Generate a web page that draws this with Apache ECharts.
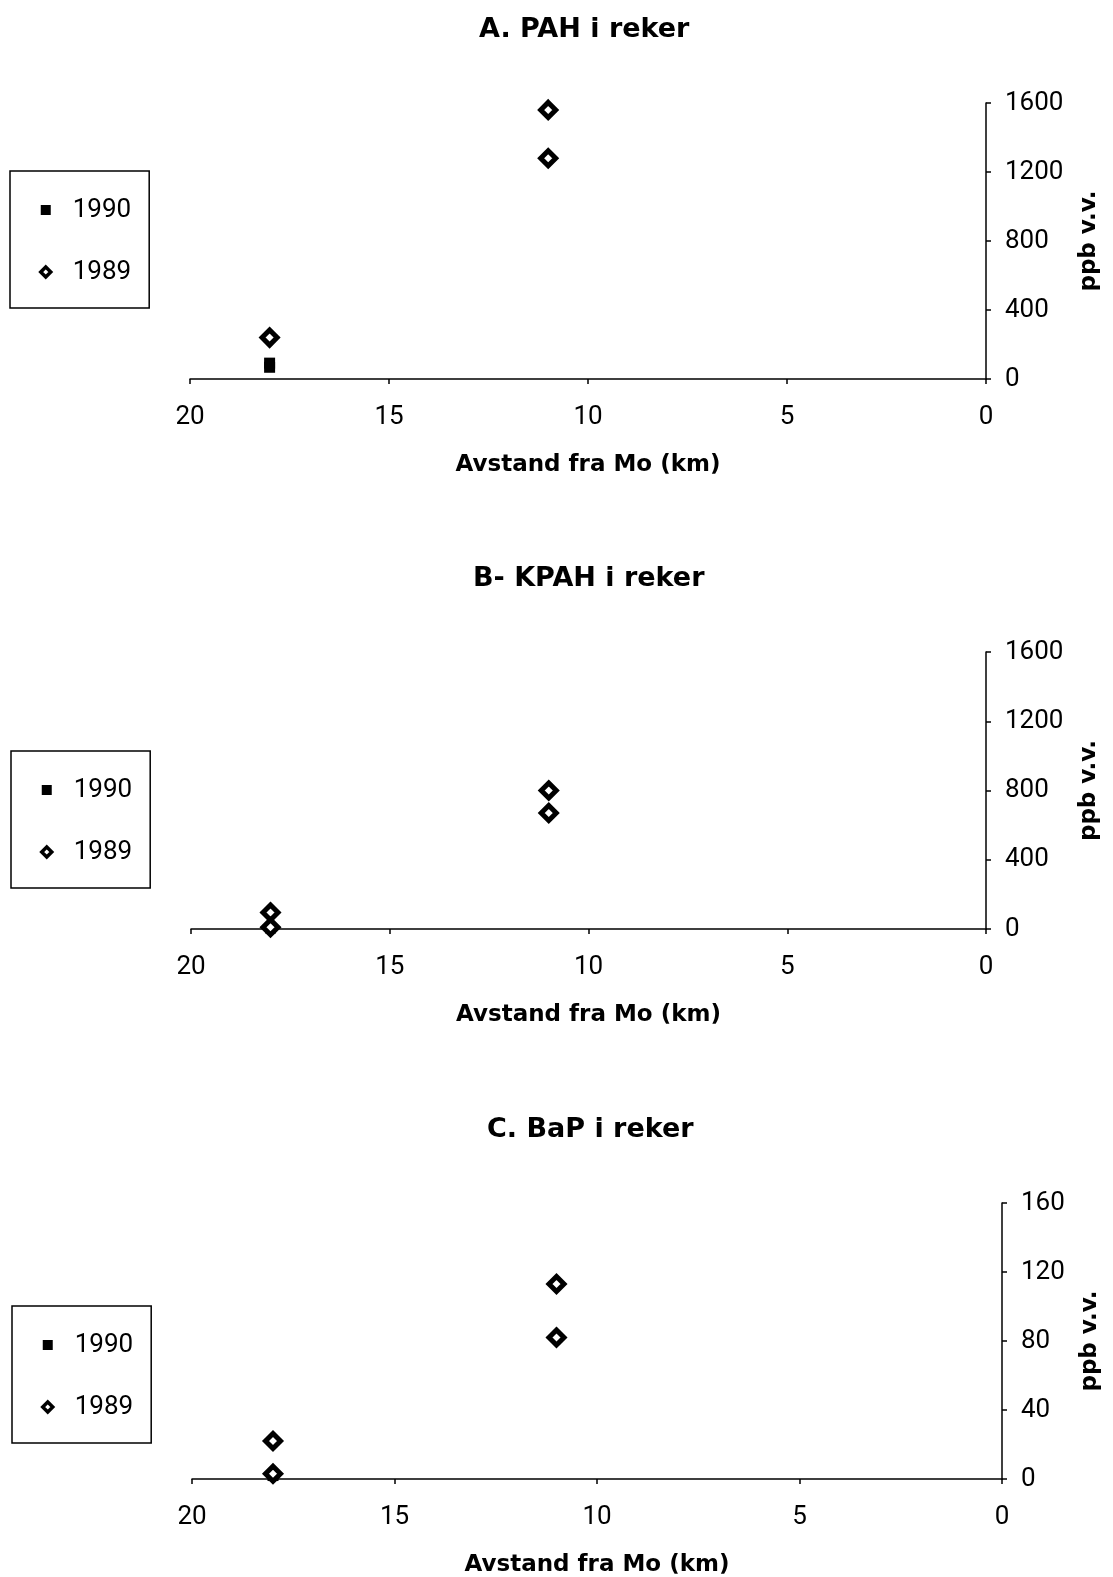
<!DOCTYPE html>
<html>
<head>
<meta charset="utf-8">
<script src="https://cdn.jsdelivr.net/npm/echarts@6/dist/echarts.min.js"></script>
<style>
html,body{margin:0;padding:0;background:#fff;}
#c{width:1113px;height:1577px;}
</style>
</head>
<body>
<div id="c"></div>
<script>
// ---- data (distance from Mo in km, value in ppb v.v.) ----
const titles = ['A. PAH i reker', 'B- KPAH i reker', 'C. BaP i reker'];
const seriesNames = ['1990', '1989'];
const xAxisName = 'Avstand fra Mo (km)';
const yAxisName = 'ppb v.v.';
const yMax = [1600, 1600, 160];
const yInterval = [400, 400, 40];

const pahA_1990 = [[18, 92], [18, 68]];
const pahA_1989 = [[18, 240], [11, 1560], [11, 1280]];
const kpahB_1990 = [[18, 6]];
const kpahB_1989 = [[18, 95], [18, 10], [11, 800], [11, 670]];
const bapC_1990 = [[18, 2]];
const bapC_1989 = [[18, 22], [18, 3], [11, 113], [11, 82]];

const data1990 = [pahA_1990, kpahB_1990, bapC_1990];
const data1989 = [pahA_1989, kpahB_1989, bapC_1989];

// ---- layout ----
const grids = [
  {left: 190, right: 127, top: 103, height: 276},
  {left: 191, right: 127, top: 652, height: 277},
  {left: 192, right: 111, top: 1203, height: 276}
];
const yNameGap = [92, 92, 77];
const titlePos = [{left: 479, top: 16}, {left: 473, top: 565}, {left: 487, top: 1116}];
const legendPos = [{left: 10, top: 171}, {left: 11, top: 751}, {left: 12, top: 1306}];

const numFont = 'Roboto';
const boldFont = 'DejaVu Sans';
const black = '#000';

const chart = echarts.init(document.getElementById('c'), null, {renderer: 'canvas'});

const diamondStyle = {color: '#fff', borderColor: black, borderWidth: 5, opacity: 1};

const option = {
  backgroundColor: '#fff',
  animation: false,
  title: titles.map((t, i) => ({
    text: t, left: titlePos[i].left, top: titlePos[i].top, padding: 0,
    textStyle: {fontFamily: boldFont, fontWeight: 'bold', fontSize: 27, color: black}
  })),
  legend: legendPos.map((p, i) => ({
    left: p.left, top: p.top, orient: 'vertical',
    data: [
      {name: seriesNames[0], icon: 'rect', itemStyle: {color: black, borderWidth: 0}},
      {name: seriesNames[1], icon: 'diamond', itemStyle: {color: '#fff', borderColor: black, borderWidth: 3.5}}
    ],
    itemWidth: 10, itemHeight: 10, itemGap: 36,
    padding: [26, 18, 23, 29],
    borderColor: black, borderWidth: 1.5,
    selectedMode: false,
    textStyle: {fontFamily: numFont, fontSize: 26, color: black, padding: [0, 0, 0, 17]}
  })),
  grid: grids.map(g => Object.assign({containLabel: false, outerBoundsMode: 'none'}, g)),
  xAxis: grids.map((g, i) => ({
    type: 'value', gridIndex: i, min: 0, max: 20, interval: 5, inverse: true,
    position: 'bottom',
    name: xAxisName, nameLocation: 'middle', nameGap: 75,
    nameTextStyle: {fontFamily: boldFont, fontWeight: 'bold', fontSize: 23, color: black},
    axisLine: {show: true, onZero: false, lineStyle: {color: black, width: 1.5}},
    axisTick: {show: true, length: 5, lineStyle: {color: black, width: 1.5}},
    axisLabel: {fontFamily: numFont, fontSize: 26, color: black, margin: 25},
    splitLine: {show: false}
  })),
  yAxis: grids.map((g, i) => ({
    type: 'value', gridIndex: i, min: 0, max: yMax[i], interval: yInterval[i],
    position: 'right',
    name: yAxisName, nameLocation: 'middle', nameGap: yNameGap[i], nameRotate: 90,
    nameTextStyle: {fontFamily: boldFont, fontWeight: 'bold', fontSize: 23, color: black},
    axisLine: {show: true, onZero: false, lineStyle: {color: black, width: 1.5}},
    axisTick: {show: true, length: 5, lineStyle: {color: black, width: 1.5}},
    axisLabel: {fontFamily: numFont, fontSize: 26, color: black, margin: 19,
      formatter: v => String(v)},
    splitLine: {show: false}
  })),
  series: []
};

for (let i = 0; i < 3; i++) {
  option.series.push({
    type: 'scatter', name: seriesNames[0], xAxisIndex: i, yAxisIndex: i,
    data: data1990[i], symbol: 'rect', symbolSize: 11, clip: false,
    itemStyle: {color: black, opacity: 1}
  });
  option.series.push({
    type: 'scatter', name: seriesNames[1], xAxisIndex: i, yAxisIndex: i,
    data: data1989[i], symbol: 'diamond', symbolSize: 15, clip: false,
    itemStyle: diamondStyle
  });
}

chart.setOption(option);
</script>
</body>
</html>
